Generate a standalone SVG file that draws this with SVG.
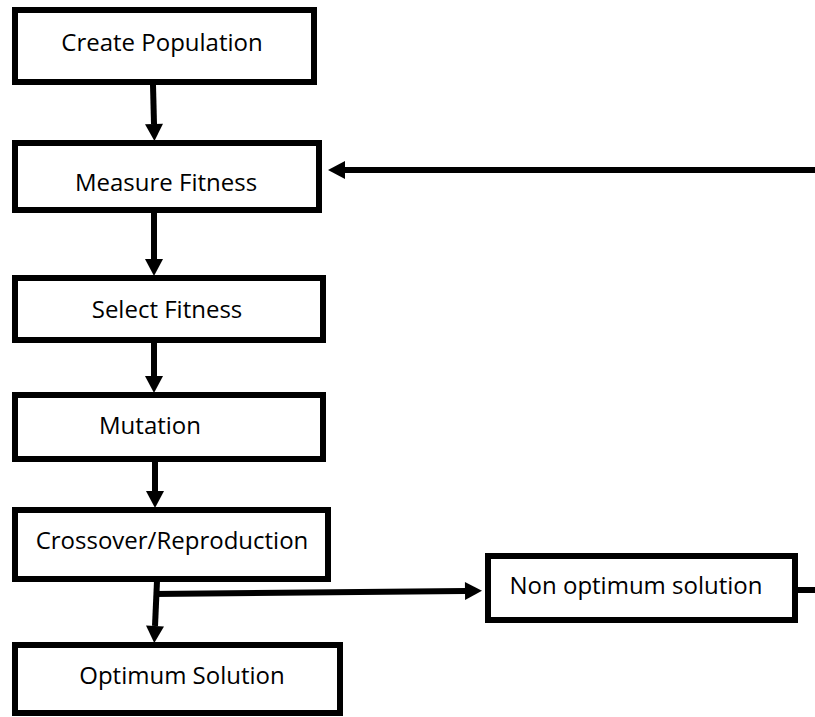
<svg xmlns="http://www.w3.org/2000/svg" width="815" height="717" viewBox="0 0 815 717">
<defs>
<style>
.box{fill:#fff;stroke:#000;stroke-width:6}
.lbl{font-family:"Open Sans","Liberation Sans",sans-serif;font-size:24px;fill:#000;text-anchor:middle}
.con{stroke:#000;stroke-width:6;fill:none}
</style>
<marker id="ah" markerUnits="userSpaceOnUse" markerWidth="18" markerHeight="18" viewBox="0 0 17 18" refX="0" refY="9" orient="auto">
<path d="M0,0 L17,9 L0,18 Z" fill="#000"/>
</marker>
</defs>
<rect width="815" height="717" fill="#fff"/>
<g id="connectors">
<line class="con" x1="153" y1="85" x2="154" y2="124" marker-end="url(#ah)"/>
<line class="con" x1="815" y1="170" x2="345" y2="170" marker-end="url(#ah)"/>
<line class="con" x1="154" y1="213" x2="154" y2="259" marker-end="url(#ah)"/>
<line class="con" x1="154" y1="343" x2="154" y2="376" marker-end="url(#ah)"/>
<line class="con" x1="155" y1="462" x2="155" y2="491" marker-end="url(#ah)"/>
<line class="con" x1="157" y1="581" x2="155" y2="626" marker-end="url(#ah)"/>
<line class="con" x1="154" y1="594" x2="465" y2="591" marker-end="url(#ah)"/>
<line class="con" x1="798" y1="590" x2="815" y2="590"/>
</g>
<g id="create-population">
<rect class="box" x="15" y="10" width="299" height="72"/>
<text class="lbl" x="162" y="51">Create Population</text>
</g>
<g id="measure-fitness">
<rect class="box" x="15" y="143" width="304" height="67"/>
<text class="lbl" x="166" y="191">Measure Fitness</text>
</g>
<g id="select-fitness">
<rect class="box" x="15" y="278" width="308" height="62"/>
<text class="lbl" x="167" y="318">Select Fitness</text>
</g>
<g id="mutation">
<rect class="box" x="15" y="395" width="308" height="64"/>
<text class="lbl" x="150" y="434">Mutation</text>
</g>
<g id="crossover">
<rect class="box" x="15" y="510" width="313" height="69"/>
<text class="lbl" x="172" y="549">Crossover/Reproduction</text>
</g>
<g id="optimum-solution">
<rect class="box" x="15" y="645" width="325" height="68"/>
<text class="lbl" x="182" y="684">Optimum Solution</text>
</g>
<g id="non-optimum-solution">
<rect class="box" x="488" y="556" width="307" height="64"/>
<text class="lbl" x="636" y="594">Non optimum solution</text>
</g>
</svg>
